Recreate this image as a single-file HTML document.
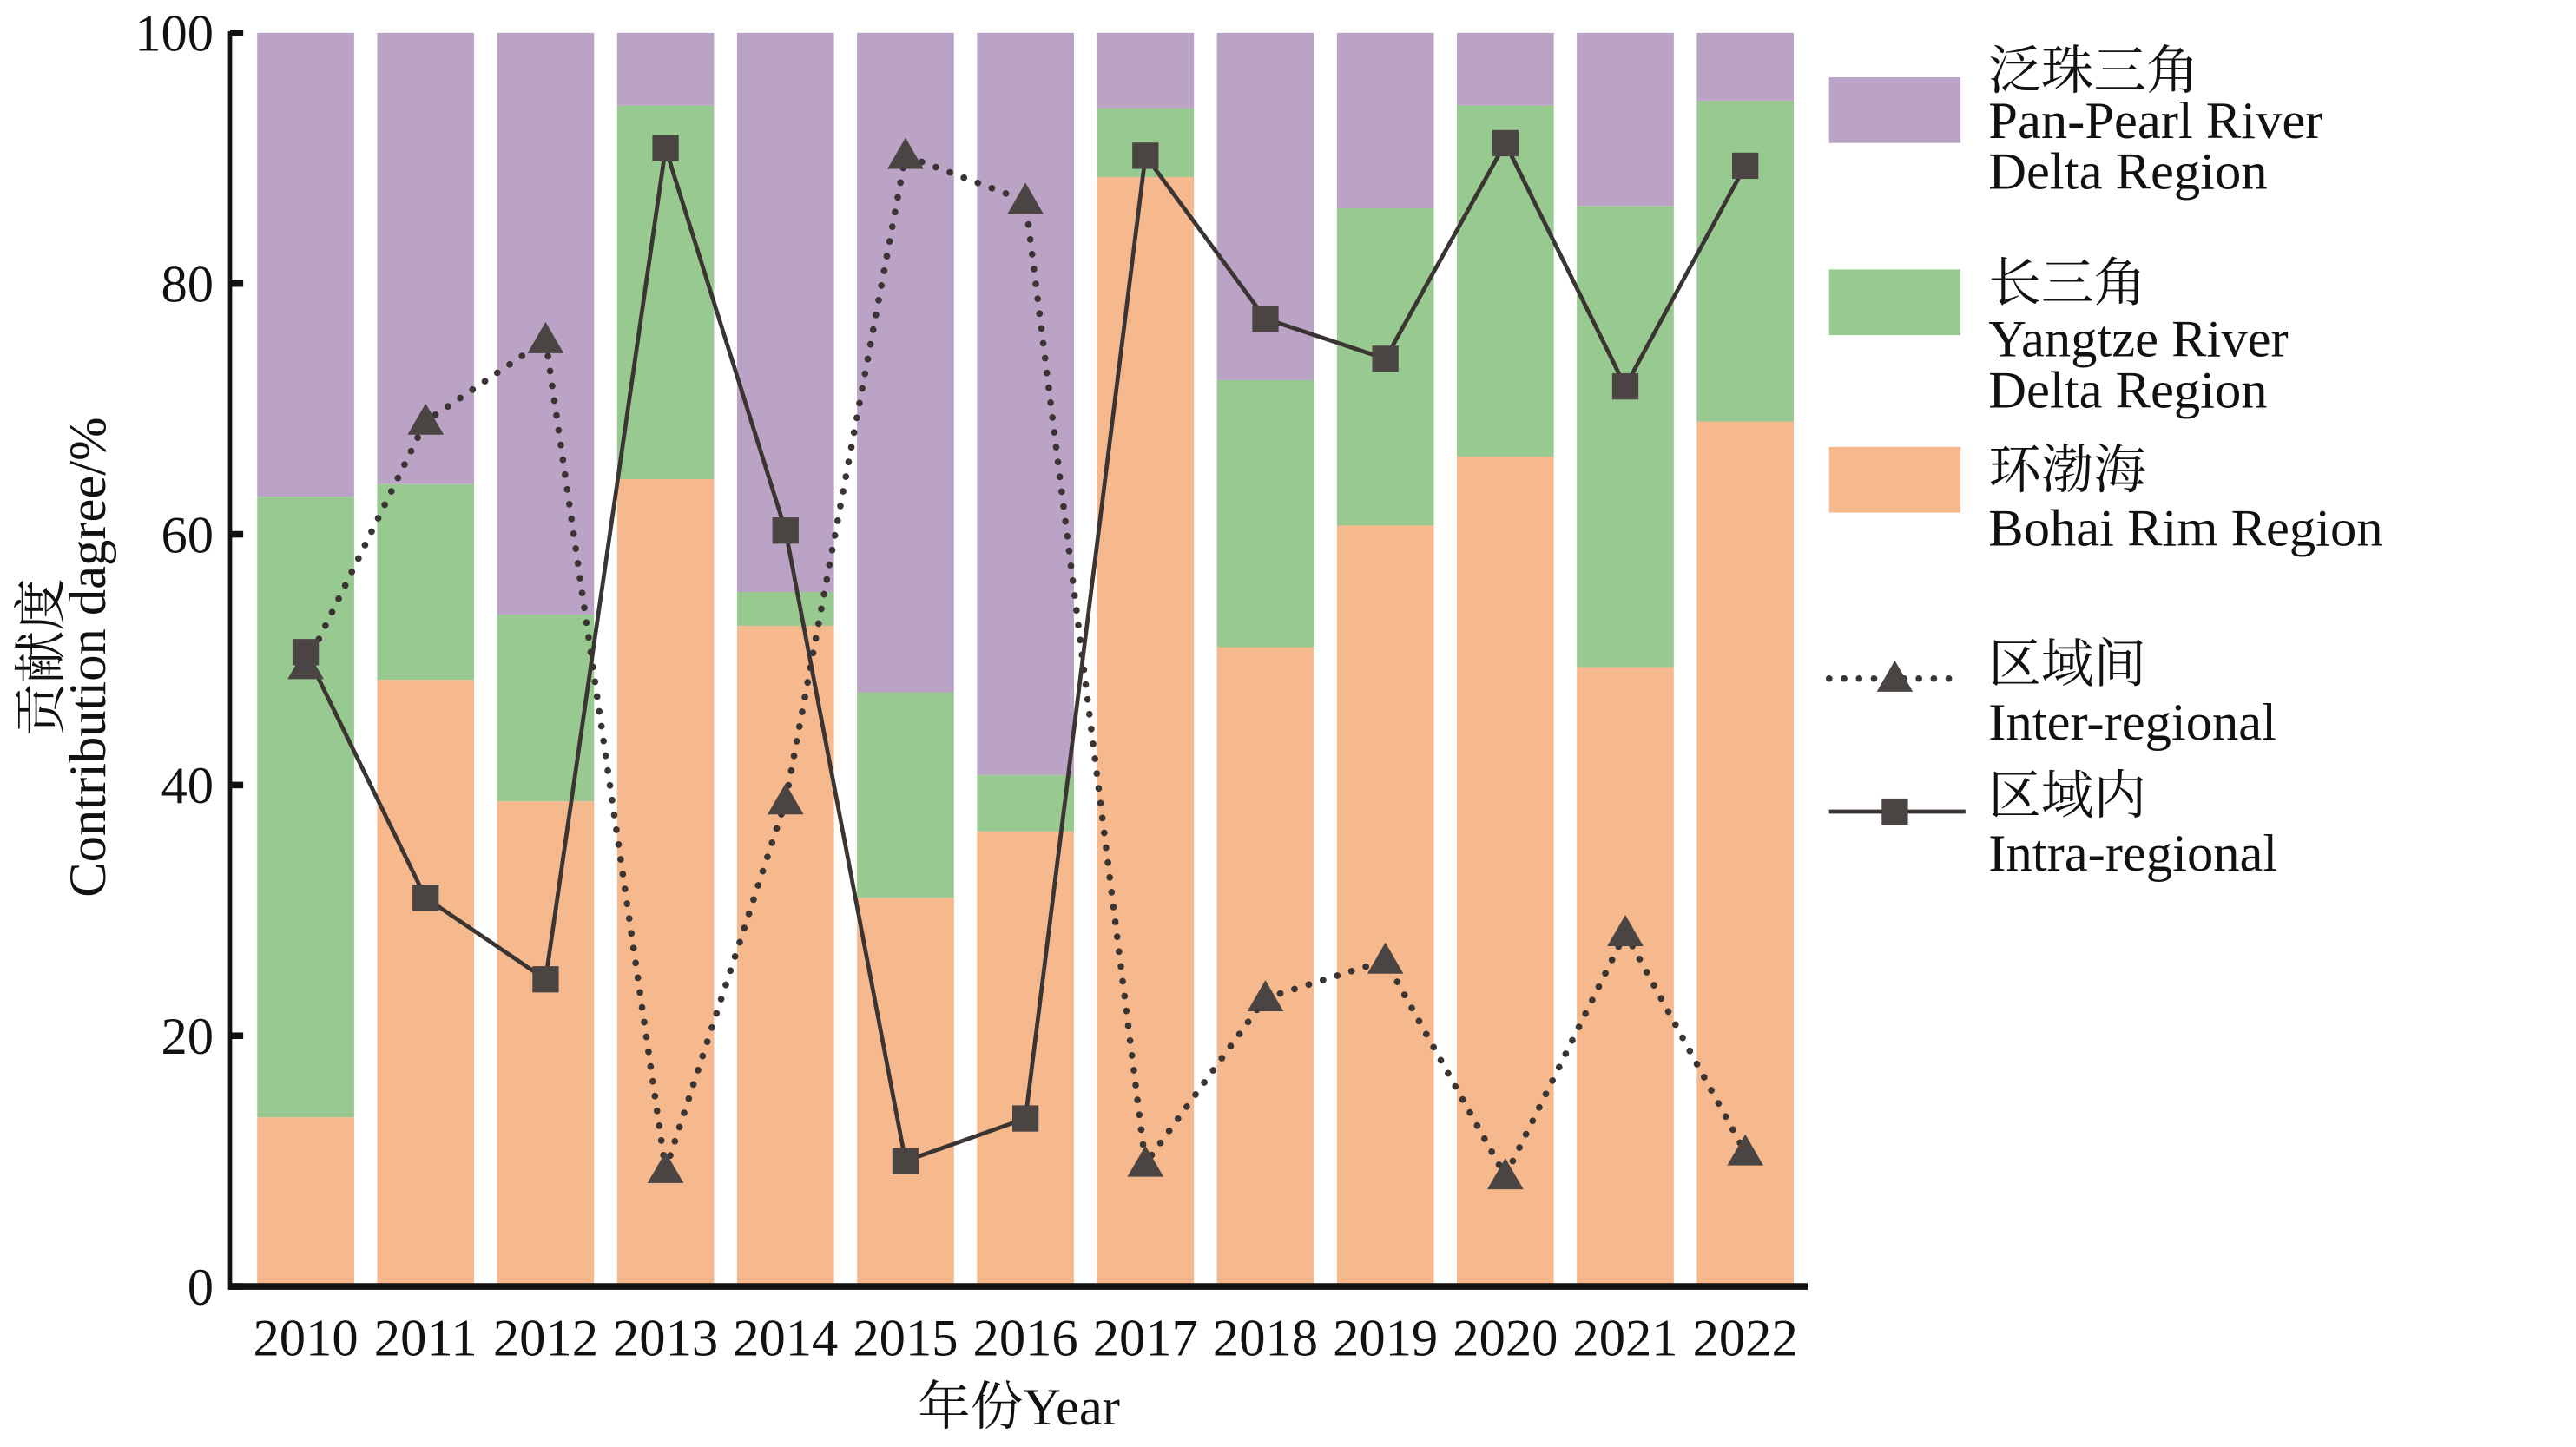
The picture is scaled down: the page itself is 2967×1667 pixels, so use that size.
<!DOCTYPE html>
<html><head><meta charset="utf-8"><style>
html,body{margin:0;padding:0;background:#fff}
svg{display:block}
text{font-family:"Liberation Serif","Noto Serif CJK SC",serif;fill:#111}
</style></head><body>
<svg id="chart" width="2967" height="1667" viewBox="0 0 1567.5 880.7" preserveAspectRatio="none" xmlns="http://www.w3.org/2000/svg">
<g id="bars"></g>
<g id="lines"></g>
<g id="axes"></g>
<g id="legend">
  <rect x="1113" y="47" width="80" height="40" fill="#bba3c6"/>
  <text x="1210" y="54" font-size="32">泛珠三角</text>
  <text x="1210" y="84" font-size="32">Pan-Pearl River</text>
  <text x="1210" y="115" font-size="32">Delta Region</text>
  <rect x="1113" y="164" width="80" height="40" fill="#97c990"/>
  <text x="1210" y="183" font-size="32">长三角</text>
  <text x="1210" y="217" font-size="32">Yangtze River</text>
  <text x="1210" y="248" font-size="32">Delta Region</text>
  <rect x="1113" y="272" width="80" height="40" fill="#f6b88d"/>
  <text x="1210" y="297" font-size="32">环渤海</text>
  <text x="1210" y="332" font-size="32">Bohai Rim Region</text>
  <line x1="1113" y1="413" x2="1193" y2="413" stroke="#3a3433" stroke-width="4" stroke-dasharray="0.1 9" stroke-linecap="round"/>
  <polygon points="1153,402 1164,421 1142,421" fill="#4a4443"/>
  <text x="1210" y="415" font-size="32">区域间</text>
  <text x="1210" y="450" font-size="32">Inter-regional</text>
  <line x1="1113" y1="494" x2="1196" y2="494" stroke="#3a3433" stroke-width="2.5"/>
  <rect x="1145" y="486" width="16" height="16" fill="#4a4443"/>
  <text x="1210" y="495" font-size="32">区域内</text>
  <text x="1210" y="530" font-size="32">Intra-regional</text>
</g>
</svg>
<script>
const years = ['2010','2011','2012','2013','2014','2015','2016','2017','2018','2019','2020','2021','2022'];
const bohai = [13.5,48.4,38.7,64.4,52.7,31,36.3,88.5,51,60.7,66.2,49.4,69];
const yangtze = [49.5,15.6,14.9,29.8,2.7,16.4,4.5,5.5,21.3,25.3,28,36.8,25.6];
const panPearl = [37,36,46.4,5.8,44.6,52.6,59.2,6,27.7,14,5.8,13.8,5.4];
const interRegional = [49.5,69,75.5,9.3,38.7,90.2,86.6,9.8,23,26,8.8,28.2,10.7];
const intraRegional = [50.6,31,24.5,90.8,60.3,10,13.4,90.2,77.2,74,91.2,71.8,89.4];
const yTicks = [0,20,40,60,80,100];

const NS='http://www.w3.org/2000/svg';
const x0=140, x1=1100, yTop=20, yBot=783;
const bw=59;
function xPos(i){return 186+73*i;}
function yPos(v){return yBot-(yBot-yTop)*v/100;}
function mk(tag,attrs,parent){const e=document.createElementNS(NS,tag);for(const k in attrs)e.setAttribute(k,attrs[k]);parent.appendChild(e);return e;}

const bars=document.getElementById('bars');
years.forEach((y,i)=>{
  let base=0;
  const segs=[[bohai[i],'#f6b88d','bohai'],[yangtze[i],'#97c990','yangtze'],[panPearl[i],'#bba3c6','pan-pearl']];
  segs.forEach(s=>{
    const top=base+s[0];
    const r=mk('rect',{x:xPos(i)-bw/2,y:yPos(top),width:bw,height:yPos(base)-yPos(top),fill:s[1]},bars);
    
    
    base=top;
  });
});

const lines=document.getElementById('lines');
const interPts=interRegional.map((v,i)=>xPos(i)+','+yPos(v)).join(' ');
const pl1=mk('polyline',{points:interPts,fill:'none',stroke:'#3a3433','stroke-width':4,'stroke-dasharray':'0.1 9','stroke-linecap':'round'},lines);


const intraPts=intraRegional.map((v,i)=>xPos(i)+','+yPos(v)).join(' ');
const pl2=mk('polyline',{points:intraPts,fill:'none',stroke:'#3a3433','stroke-width':2.5},lines);


interRegional.forEach((v,i)=>{
  const cx=xPos(i),cy=yPos(v);
  const p=mk('polygon',{points:`${cx},${cy-11} ${cx+11},${cy+8} ${cx-11},${cy+8}`,fill:'#4a4443'},lines);
  
  
});
intraRegional.forEach((v,i)=>{
  const r=mk('rect',{x:xPos(i)-8,y:yPos(v)-8,width:16,height:16,fill:'#4a4443'},lines);
  
  
});

const axes=document.getElementById('axes');
const ya=mk('line',{x1:x0,y1:yTop-1,x2:x0,y2:yBot+2,stroke:'#111','stroke-width':2.5},axes);


const xa=mk('line',{x1:x0-1,y1:yBot,x2:x1,y2:yBot,stroke:'#111','stroke-width':4},axes);


yTicks.forEach(t=>{
  const tk=mk('line',{x1:x0,y1:yPos(t),x2:x0+8,y2:yPos(t),stroke:'#111','stroke-width':4},axes);
  
  
  const tx=mk('text',{x:x0-10,y:yPos(t)+11,'font-size':32,'text-anchor':'end'},axes);
  tx.textContent=t;
  
  
});
years.forEach((y,i)=>{
  const tx=mk('text',{x:xPos(i),y:825,'font-size':32,'text-anchor':'middle'},axes);
  tx.textContent=y;
  
  
});
const xt=mk('text',{x:620,y:867,'font-size':32,'text-anchor':'middle'},axes);
xt.textContent='年份Year';


const yt1=mk('text',{x:0,y:0,'font-size':32,'text-anchor':'middle',transform:'translate(36,400) rotate(-90)'},axes);
yt1.textContent='贡献度';


const yt2=mk('text',{x:0,y:0,'font-size':32,'text-anchor':'middle',transform:'translate(64,400) rotate(-90)'},axes);
yt2.textContent='Contribution dagree/%';


</script>
</body></html>
